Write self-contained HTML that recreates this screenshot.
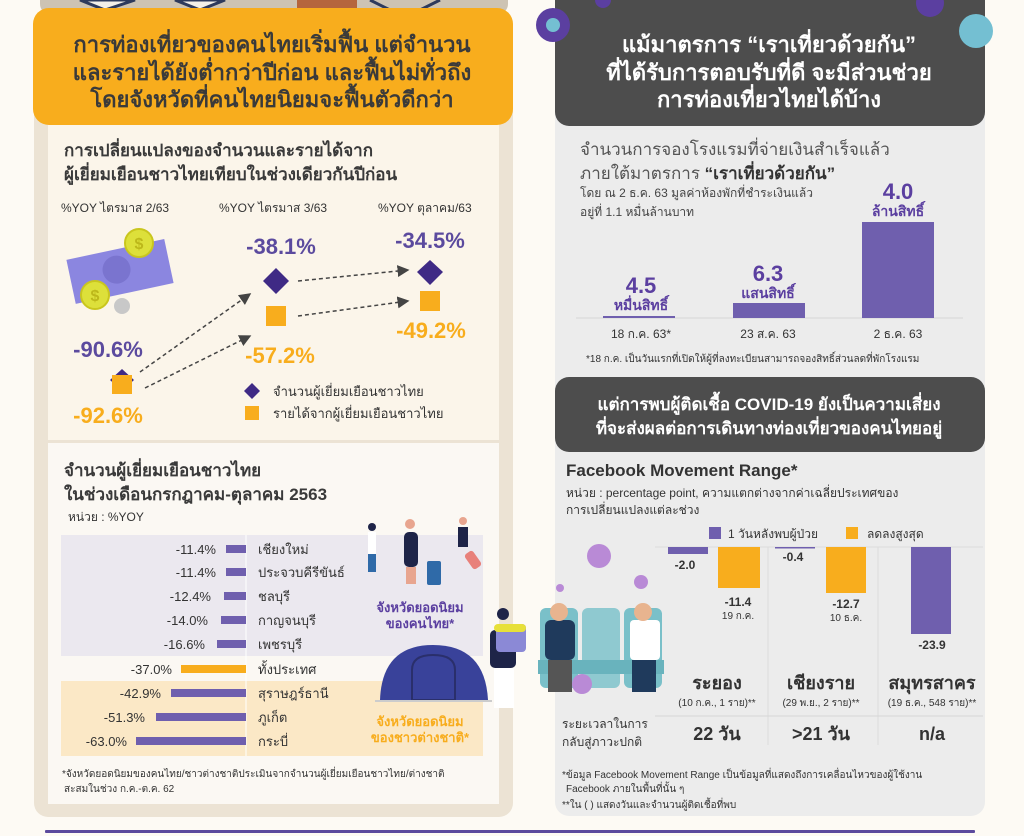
<!DOCTYPE html>
<html><head><meta charset="utf-8"><style>
html,body{margin:0;padding:0;background:#fdfaf4;}
svg{display:block;font-family:"Liberation Sans","DejaVu Sans",sans-serif;}
</style></head><body>
<svg width="1024" height="836" viewBox="0 0 1024 836" xmlns="http://www.w3.org/2000/svg">
<defs>
<marker id="ar" markerWidth="8" markerHeight="8" refX="7" refY="4" orient="auto"><path d="M0,0 L8,4 L0,8 z" fill="#444"/></marker>
</defs>
<rect width="1024" height="836" fill="#fdfaf4"/>
<!-- LEFT PANEL -->
<rect x="34" y="20" width="479" height="797" rx="14" fill="#ece3d4"/>
<rect x="48" y="120" width="451" height="320" fill="#fbf5ea"/>
<rect x="48" y="443" width="451" height="361" fill="#fbf8f3"/>
<rect x="40" y="-10" width="468" height="24" rx="10" fill="#cdc3b3"/>
<path d="M80,0 L105,10 L135,0Z M175,0 L200,10 L225,0Z" fill="#f3efe8" stroke="#2e3a5c" stroke-width="3"/>
<rect x="297" y="0" width="60" height="8" fill="#b5653d"/>
<path d="M370,0 L390,10 L420,10 L440,0" fill="none" stroke="#2e3a5c" stroke-width="3"/>
<rect x="33" y="8" width="480" height="117" rx="16" fill="#f8ad1d"/>
<g font-weight="bold" font-size="22" fill="#3a3a3a" text-anchor="middle">
<text x="272" y="52">การท่องเที่ยวของคนไทยเริ่มฟื้น แต่จำนวน</text>
<text x="272" y="80">และรายได้ยังต่ำกว่าปีก่อน และฟื้นไม่ทั่วถึง</text>
<text x="272" y="107">โดยจังหวัดที่คนไทยนิยมจะฟื้นตัวดีกว่า</text>
</g>
<g font-weight="bold" font-size="17" fill="#3a3a3a">
<text x="64" y="156">การเปลี่ยนแปลงของจำนวนและรายได้จาก</text>
<text x="64" y="180">ผู้เยี่ยมเยือนชาวไทยเทียบในช่วงเดียวกันปีก่อน</text>
</g>
<g font-size="12" fill="#333">
<text x="61" y="212">%YOY ไตรมาส 2/63</text>
<text x="219" y="212">%YOY ไตรมาส 3/63</text>
<text x="378" y="212">%YOY ตุลาคม/63</text>
</g>
<!-- money -->
<g transform="rotate(-12 115 272)">
<rect x="70" y="250" width="100" height="45" fill="#8b86e0"/>
<circle cx="117" cy="270" r="14" fill="#7a74cf"/>
</g>
<circle cx="139" cy="243" r="14" fill="#dde03a" stroke="#c9c61e" stroke-width="2"/>
<text x="139" y="249" font-size="16" fill="#bdb81a" text-anchor="middle" font-weight="bold">$</text>
<circle cx="95" cy="295" r="14" fill="#dde03a" stroke="#c9c61e" stroke-width="2"/>
<text x="95" y="301" font-size="16" fill="#bdb81a" text-anchor="middle" font-weight="bold">$</text>
<circle cx="122" cy="306" r="8" fill="#c8c8c8"/>
<!-- arrows -->
<g stroke="#444" stroke-width="1.5" stroke-dasharray="4,3" fill="none" marker-end="url(#ar)">
<line x1="140" y1="372" x2="250" y2="294"/>
<line x1="145" y1="388" x2="250" y2="336"/>
<line x1="298" y1="281" x2="408" y2="270"/>
<line x1="298" y1="316" x2="408" y2="301"/>
</g>
<g font-weight="bold" font-size="22" text-anchor="middle">
<text x="281" y="254" fill="#5b4a9e">-38.1%</text>
<text x="280" y="363" fill="#f8ad1d">-57.2%</text>
<text x="430" y="248" fill="#5b4a9e">-34.5%</text>
<text x="431" y="338" fill="#f8ad1d">-49.2%</text>
<text x="108" y="357" fill="#5b4a9e">-90.6%</text>
<text x="108" y="423" fill="#f8ad1d">-92.6%</text>
</g>
<g fill="#3f2a85">
<path d="M276,268 L289,281 L276,294 L263,281Z"/>
<path d="M430,260 L443,272 L430,285 L417,272Z"/>
<path d="M122,369 L134,380 L122,391 L110,380Z"/>
<path d="M252,383 L260,391 L252,399 L244,391Z"/>
</g>
<g fill="#f8ad1d">
<rect x="266" y="306" width="20" height="20"/>
<rect x="420" y="291" width="20" height="20"/>
<rect x="112" y="375" width="20" height="19"/>
<rect x="245" y="406" width="14" height="14"/>
</g>
<g font-size="13" fill="#333">
<text x="273" y="396">จำนวนผู้เยี่ยมเยือนชาวไทย</text>
<text x="273" y="418">รายได้จากผู้เยี่ยมเยือนชาวไทย</text>
</g>
<!-- section 2 -->
<g font-weight="bold" font-size="17" fill="#3a3a3a">
<text x="64" y="476">จำนวนผู้เยี่ยมเยือนชาวไทย</text>
<text x="64" y="500">ในช่วงเดือนกรกฎาคม-ตุลาคม 2563</text>
</g>
<text x="68" y="521" font-size="12" fill="#333">หน่วย : %YOY</text>
<rect x="61" y="535" width="422" height="121" fill="#ebe8ef"/>
<rect x="61" y="681" width="422" height="75" fill="#fbe8c6"/>
<line x1="246" y1="535" x2="246" y2="756" stroke="#fff" stroke-width="1"/>
<g font-size="13" fill="#333">
<g text-anchor="end">
<text x="216" y="554">-11.4%</text>
<text x="216" y="577">-11.4%</text>
<text x="211" y="601">-12.4%</text>
<text x="208" y="625">-14.0%</text>
<text x="205" y="649">-16.6%</text>
<text x="172" y="674">-37.0%</text>
<text x="161" y="698">-42.9%</text>
<text x="145" y="722">-51.3%</text>
<text x="127" y="746">-63.0%</text>
</g>
<text x="258" y="554">เชียงใหม่</text>
<text x="258" y="577">ประจวบคีรีขันธ์</text>
<text x="258" y="601">ชลบุรี</text>
<text x="258" y="625">กาญจนบุรี</text>
<text x="258" y="649">เพชรบุรี</text>
<text x="258" y="674">ทั้งประเทศ</text>
<text x="258" y="698">สุราษฎร์ธานี</text>
<text x="258" y="722">ภูเก็ต</text>
<text x="258" y="746">กระบี่</text>
</g>
<g fill="#6f5fae">
<rect x="226" y="545" width="20" height="8"/>
<rect x="226" y="568" width="20" height="8"/>
<rect x="224" y="592" width="22" height="8"/>
<rect x="221" y="616" width="25" height="8"/>
<rect x="217" y="640" width="29" height="8"/>
<rect x="171" y="689" width="75" height="8"/>
<rect x="156" y="713" width="90" height="8"/>
<rect x="136" y="737" width="110" height="8"/>
</g>
<rect x="181" y="665" width="65" height="8" fill="#f8ad1d"/>
<!-- travelers -->
<g>
<rect x="368" y="532" width="8" height="22" fill="#fff"/><rect x="368" y="554" width="8" height="18" fill="#2f6aa8"/><circle cx="372" cy="527" r="4" fill="#1e2448"/>
<rect x="404" y="532" width="14" height="35" rx="5" fill="#1e2448"/><rect x="406" y="567" width="10" height="17" fill="#e8a58f"/><circle cx="410" cy="524" r="5" fill="#e8a58f"/>
<rect x="427" y="561" width="14" height="24" rx="2" fill="#2f6aa8"/>
<rect x="458" y="527" width="10" height="20" fill="#1e2448"/><circle cx="463" cy="521" r="4" fill="#e8a58f"/>
<rect x="468" y="551" width="10" height="18" rx="3" fill="#e8807a" transform="rotate(-35 473 560)"/>
</g>
<g font-weight="bold" font-size="13" text-anchor="middle">
<text x="420" y="612" fill="#5b3fa0">จังหวัดยอดนิยม</text>
<text x="420" y="628" fill="#5b3fa0">ของคนไทย*</text>
<text x="420" y="726" fill="#f8ad1d">จังหวัดยอดนิยม</text>
<text x="420" y="742" fill="#f8ad1d">ของชาวต่างชาติ*</text>
</g>
<path d="M380,700 Q382,645 433,645 Q485,645 488,700Z" fill="#39429a"/>
<path d="M412,700 L412,670 Q412,655 433,655 Q455,655 455,670 L455,700Z" fill="none" stroke="#2a2f6b" stroke-width="2"/>
<line x1="375" y1="701" x2="492" y2="701" stroke="#ccc" stroke-width="2"/>
<rect x="490" y="630" width="26" height="38" rx="5" fill="#1e2448"/>
<rect x="496" y="624" width="30" height="28" rx="4" fill="#8b89d6"/>
<rect x="494" y="624" width="32" height="8" rx="4" fill="#e7e03a"/>
<rect x="494" y="668" width="20" height="40" fill="#fff"/>
<circle cx="503" cy="614" r="6" fill="#1e2448"/>
<g font-size="10" fill="#333">
<text x="62" y="777">*จังหวัดยอดนิยมของคนไทย/ชาวต่างชาติประเมินจากจำนวนผู้เยี่ยมเยือนชาวไทย/ต่างชาติ</text>
<text x="64" y="792">สะสมในช่วง ก.ค.-ต.ค. 62</text>
</g>
<!-- RIGHT PANEL -->
<rect x="555" y="100" width="430" height="716" rx="14" fill="#ececec"/>
<rect x="555" y="0" width="430" height="126" rx="14" fill="#4d4d4d"/>
<rect x="555" y="-20" width="430" height="40" fill="#4d4d4d"/>
<g fill="#5b3fa0">
<circle cx="553" cy="25" r="17"/><circle cx="930" cy="3" r="14"/><circle cx="603" cy="0" r="8"/>
</g>
<circle cx="976" cy="31" r="17" fill="#74bfd2"/>
<circle cx="553" cy="25" r="7" fill="#74bfd2"/>
<g font-weight="bold" font-size="22" fill="#fff" text-anchor="middle">
<text x="769" y="52">แม้มาตรการ “เราเที่ยวด้วยกัน”</text>
<text x="769" y="80">ที่ได้รับการตอบรับที่ดี จะมีส่วนช่วย</text>
<text x="769" y="107">การท่องเที่ยวไทยได้บ้าง</text>
</g>
<g font-size="17" fill="#555">
<text x="580" y="155">จำนวนการจองโรงแรมที่จ่ายเงินสำเร็จแล้ว</text>
<text x="580" y="179">ภายใต้มาตรการ <tspan font-weight="bold" fill="#333">“เราเที่ยวด้วยกัน”</tspan></text>
</g>
<g font-size="12" fill="#444">
<text x="580" y="197">โดย ณ 2 ธ.ค. 63 มูลค่าห้องพักที่ชำระเงินแล้ว</text>
<text x="580" y="216">อยู่ที่ 1.1 หมื่นล้านบาท</text>
</g>
<line x1="576" y1="318" x2="963" y2="318" stroke="#d6d6d6"/>
<rect x="603" y="316" width="72" height="2" fill="#6f5fae"/>
<rect x="733" y="303" width="72" height="15" fill="#6f5fae"/>
<rect x="862" y="222" width="72" height="96" fill="#6f5fae"/>
<g fill="#5b3fa0" font-weight="bold" text-anchor="middle">
<text x="641" y="293" font-size="22">4.5</text><text x="641" y="310" font-size="14">หมื่นสิทธิ์</text>
<text x="768" y="281" font-size="22">6.3</text><text x="768" y="298" font-size="14">แสนสิทธิ์</text>
<text x="898" y="199" font-size="22">4.0</text><text x="898" y="216" font-size="14">ล้านสิทธิ์</text>
</g>
<g font-size="12" fill="#333" text-anchor="middle">
<text x="641" y="338">18 ก.ค. 63*</text><text x="768" y="338">23 ส.ค. 63</text><text x="898" y="338">2 ธ.ค. 63</text>
</g>
<text x="586" y="362" font-size="10" fill="#333">*18 ก.ค. เป็นวันแรกที่เปิดให้ผู้ที่ลงทะเบียนสามารถจองสิทธิ์ส่วนลดที่พักโรงแรม</text>
<rect x="555" y="377" width="430" height="75" rx="14" fill="#4d4d4d"/>
<g font-weight="bold" font-size="17" fill="#fff" text-anchor="middle">
<text x="769" y="410">แต่การพบผู้ติดเชื้อ COVID-19 ยังเป็นความเสี่ยง</text>
<text x="769" y="434">ที่จะส่งผลต่อการเดินทางท่องเที่ยวของคนไทยอยู่</text>
</g>
<text x="566" y="476" font-weight="bold" font-size="17" fill="#333">Facebook Movement Range*</text>
<g font-size="12" fill="#333">
<text x="566" y="497">หน่วย : percentage point, ความแตกต่างจากค่าเฉลี่ยประเทศของ</text>
<text x="566" y="514">การเปลี่ยนแปลงแต่ละช่วง</text>
<rect x="709" y="527" width="12" height="12" fill="#6f5fae"/><text x="728" y="538">1 วันหลังพบผู้ป่วย</text>
<rect x="846" y="527" width="12" height="12" fill="#f8ad1d"/><text x="867" y="538">ลดลงสูงสุด</text>
</g>
<line x1="655" y1="547" x2="983" y2="547" stroke="#dcdcdc"/>
<line x1="768" y1="547" x2="768" y2="745" stroke="#dcdcdc"/>
<line x1="878" y1="547" x2="878" y2="745" stroke="#dcdcdc"/>
<line x1="655" y1="716" x2="983" y2="716" stroke="#d6d6d6"/>
<rect x="668" y="547" width="40" height="7" fill="#6f5fae"/>
<rect x="718" y="547" width="42" height="41" fill="#f8ad1d"/>
<rect x="775" y="547" width="40" height="1.5" fill="#6f5fae"/>
<rect x="826" y="547" width="40" height="46" fill="#f8ad1d"/>
<rect x="911" y="547" width="40" height="87" fill="#6f5fae"/>
<g font-size="12" fill="#333" text-anchor="middle" font-weight="bold">
<text x="685" y="569">-2.0</text><text x="793" y="561">-0.4</text>
<text x="738" y="606">-11.4</text><text x="846" y="608">-12.7</text><text x="932" y="649">-23.9</text>
</g>
<g font-size="10" fill="#333" text-anchor="middle">
<text x="738" y="619">19 ก.ค.</text><text x="846" y="621">10 ธ.ค.</text>
</g>
<g font-size="18" font-weight="bold" fill="#333" text-anchor="middle">
<text x="717" y="689">ระยอง</text><text x="821" y="689">เชียงราย</text><text x="932" y="689">สมุทรสาคร</text>
<text x="717" y="740">22 วัน</text><text x="821" y="740">&gt;21 วัน</text><text x="932" y="740">n/a</text>
</g>
<g font-size="10" fill="#333" text-anchor="middle">
<text x="717" y="706">(10 ก.ค., 1 ราย)**</text><text x="821" y="706">(29 พ.ย., 2 ราย)**</text><text x="932" y="706">(19 ธ.ค., 548 ราย)**</text>
</g>
<g font-size="12" fill="#333">
<text x="562" y="728">ระยะเวลาในการ</text><text x="562" y="746">กลับสู่ภาวะปกติ</text>
</g>
<g font-size="10" fill="#333">
<text x="562" y="778">*ข้อมูล Facebook Movement Range เป็นข้อมูลที่แสดงถึงการเคลื่อนไหวของผู้ใช้งาน</text>
<text x="566" y="792">Facebook ภายในพื้นที่นั้น ๆ</text>
<text x="562" y="808">**ใน ( ) แสดงวันและจำนวนผู้ติดเชื้อที่พบ</text>
</g>
<!-- seats illustration -->
<g>
<circle cx="599" cy="556" r="12" fill="#b98ad6"/><circle cx="641" cy="582" r="7" fill="#b98ad6"/><circle cx="560" cy="588" r="4" fill="#b98ad6"/>
<rect x="540" y="608" width="38" height="80" rx="6" fill="#7ac0c9"/>
<rect x="582" y="608" width="38" height="80" rx="6" fill="#8fc9d0"/>
<rect x="624" y="608" width="38" height="80" rx="6" fill="#7ac0c9"/>
<rect x="538" y="660" width="126" height="14" fill="#69b3bd"/>
<rect x="545" y="620" width="30" height="40" rx="6" fill="#1f3a5c"/>
<circle cx="559" cy="612" r="9" fill="#e8b48f"/>
<rect x="630" y="620" width="30" height="40" rx="4" fill="#fff"/>
<circle cx="643" cy="612" r="9" fill="#e8b48f"/>
<rect x="632" y="660" width="24" height="32" fill="#1f3a5c"/>
<rect x="548" y="660" width="24" height="32" fill="#555"/>
<circle cx="582" cy="684" r="10" fill="#b98ad6"/>
</g>
<!-- bottom line -->
<rect x="45" y="830" width="930" height="3" rx="1" fill="#5b4a9e"/>
</svg>
</body></html>
